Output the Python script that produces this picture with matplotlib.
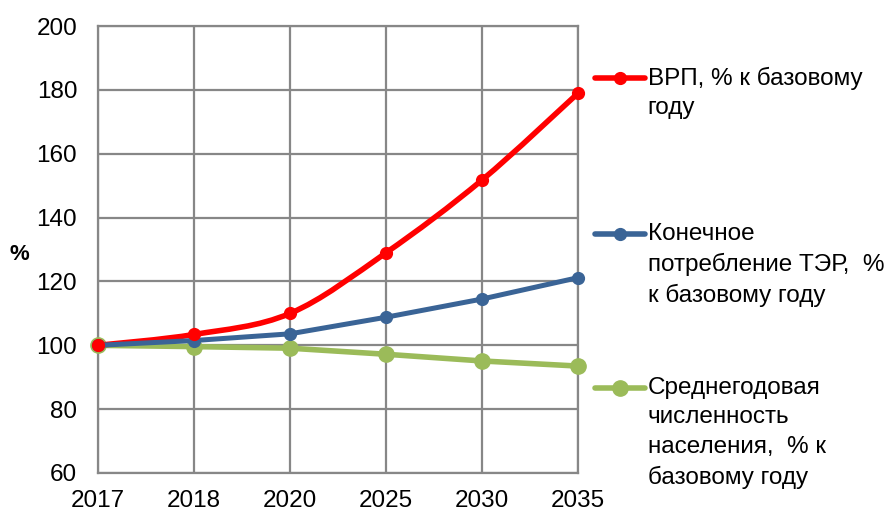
import matplotlib
matplotlib.use("Agg")
from matplotlib import pyplot as plt
from matplotlib.path import Path
from matplotlib.patches import PathPatch
from matplotlib.lines import Line2D

plt.rcParams["font.family"] = ["Liberation Sans", "DejaVu Sans"]

# Data
years = ["2017", "2018", "2020", "2025", "2030", "2035"]
grp = [100, 103.4, 110, 129, 151.8, 179]
energy = [100, 101.5, 103.6, 108.8, 114.5, 121.2]
population = [100, 99.6, 99.1, 97.2, 95.1, 93.5]

labels = [
    "ВРП, % к базовому\nгоду",
    "Конечное\nпотребление ТЭР,  %\nк базовому году",
    "Среднегодовая\nчисленность\nнаселения,  % к\nбазовому году",
]
colors = ["#FF0000", "#3A6496", "#9BBB59"]

fig = plt.figure(figsize=(8.86, 5.13), dpi=100)
ax = fig.add_axes([0.1106, 0.078, 0.5418, 0.871])

x = list(range(len(years)))
grid_color = "#878787"


def smooth_path(xs, ys, t=1 / 6):
    # Catmull-Rom style bezier through the points (like Excel smoothing)
    verts = [(xs[0], ys[0])]
    codes = [Path.MOVETO]
    n = len(xs)
    for i in range(n - 1):
        p0 = (xs[max(i - 1, 0)], ys[max(i - 1, 0)])
        p1 = (xs[i], ys[i])
        p2 = (xs[i + 1], ys[i + 1])
        p3 = (xs[min(i + 2, n - 1)], ys[min(i + 2, n - 1)])
        c1 = (p1[0] + (p2[0] - p0[0]) * t, p1[1] + (p2[1] - p0[1]) * t)
        c2 = (p2[0] - (p3[0] - p1[0]) * t, p2[1] - (p3[1] - p1[1]) * t)
        verts += [c1, c2, p2]
        codes += [Path.CURVE4] * 3
    return Path(verts, codes)


# Red: smoothed line
ax.add_patch(PathPatch(smooth_path(x, grp), fill=False, edgecolor=colors[0],
                       lw=4, capstyle="round", joinstyle="round", zorder=4))
ax.plot(x, grp, "o", color=colors[0], ms=8.5, zorder=5, clip_on=False)

ax.plot(x, energy, "-o", color=colors[1], lw=3.6, ms=8.5, zorder=4,
        clip_on=False, solid_capstyle="round")
ax.plot(x, population, "-o", color=colors[2], lw=4, ms=11, zorder=3,
        clip_on=False, solid_capstyle="round")

ax.set_xlim(0, 5)
ax.set_ylim(60, 200)
ax.set_xticks(x)
ax.set_xticklabels(years)
ax.set_yticks(range(60, 201, 20))
ax.grid(True, color=grid_color, lw=1.6)
ax.set_axisbelow(True)
for s in ax.spines.values():
    s.set_color(grid_color)
    s.set_linewidth(1.6)
ax.tick_params(length=0, labelsize=17.5)
ax.tick_params(axis="y", pad=15)
ax.tick_params(axis="x", pad=12)

fig.text(0.022, 0.503, "%", fontsize=16, fontweight="bold", ha="center", va="center")

# Legend drawn by hand so the marker lines up with the first text line
legend_y = [0.848, 0.544, 0.244]
text_y = [0.870, 0.566, 0.266]
sizes = [8.5, 8.5, 11]
for lab, c, ly, ty, ms in zip(labels, colors, legend_y, text_y, sizes):
    fig.add_artist(Line2D([0.672, 0.728], [ly, ly], transform=fig.transFigure,
                          color=c, lw=4, solid_capstyle="round"))
    fig.add_artist(Line2D([0.700], [ly], transform=fig.transFigure, marker="o",
                          color=c, ms=ms, lw=0))
    fig.text(0.731, ty, lab, fontsize=17.5, va="top", ha="left", linespacing=1.45)

fig.savefig("out.png", dpi=100)
